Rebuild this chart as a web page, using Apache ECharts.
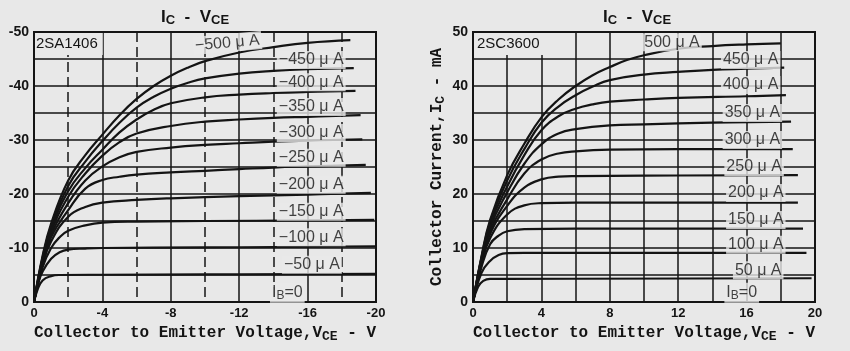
<!DOCTYPE html>
<html>
<head>
<meta charset="utf-8">
<script src="https://cdn.jsdelivr.net/npm/echarts@6/dist/echarts.min.js"></script>
<style>
	html, body { margin: 0; padding: 0; background: #e8e8e8; }
	#chart { width: 850px; height: 351px; }
</style>
</head>
<body>
<div id="chart"></div>
<script>
// 2SA1406 (PNP) : VCE (V), IC (mA), IB 50..500 uA
var sa1406_50 = [[0,0],[-0.2,-2.2],[-0.5,-4],[-1,-4.8],[-1.5,-5],[-4,-5.05],[-10,-5.1],[-20,-5.2]];
var sa1406_100 = [[0,0],[-0.25,-3.5],[-0.5,-5.6],[-1,-8],[-1.5,-9.2],[-2,-9.7],[-3,-9.9],[-4,-10],[-10,-10.1],[-20,-10.3]];
var sa1406_150 = [[0,0],[-0.5,-6.4],[-1,-10],[-1.5,-12],[-2,-13.2],[-3,-14.2],[-4,-14.7],[-6,-14.9],[-10,-15],[-16,-15.1],[-19.9,-15.2]];
var sa1406_200 = [[0,0],[-0.5,-6.8],[-1,-11.2],[-2,-15.8],[-3,-17.6],[-4,-18.4],[-6,-18.9],[-8,-19.2],[-12,-19.6],[-16,-19.9],[-19.7,-20.2]];
var sa1406_250 = [[0,0],[-0.5,-7.1],[-1,-12],[-2,-17],[-3,-21],[-4,-22.6],[-5,-23.2],[-6,-23.6],[-8,-24],[-10,-24.3],[-12,-24.6],[-14,-24.9],[-16,-25.1],[-19.4,-25.4]];
var sa1406_300 = [[0,0],[-0.5,-7.4],[-1,-12.5],[-2,-18.3],[-3,-22.5],[-4,-25.1],[-5,-26.8],[-6,-27.8],[-8,-28.6],[-10,-29.1],[-12,-29.4],[-14,-29.7],[-16,-29.9],[-19.2,-30.1]];
var sa1406_350 = [[0,0],[-0.5,-7.7],[-1,-13],[-2,-19.5],[-3,-23.8],[-4,-27.1],[-5,-29.6],[-6,-31.2],[-8,-32.6],[-10,-33.4],[-12,-33.8],[-14,-34.1],[-16,-34.3],[-19.1,-34.6]];
var sa1406_400 = [[0,0],[-0.5,-8],[-1,-13.5],[-2,-20.5],[-3,-24.8],[-4,-28.2],[-5,-31.4],[-6,-33.8],[-7,-35.6],[-8,-36.8],[-10,-37.9],[-12,-38.4],[-14,-38.7],[-16,-38.9],[-18.8,-39.1]];
var sa1406_450 = [[0,0],[-0.5,-8.2],[-1,-14],[-2,-21.5],[-3,-26],[-4,-29.8],[-5,-33.2],[-6,-36],[-7,-38],[-8,-39.5],[-9,-40.6],[-10,-41.4],[-12,-42.3],[-14,-42.8],[-16,-43.1],[-18.7,-43.3]];
var sa1406_500 = [[0,0],[-0.5,-8.5],[-1,-14.5],[-2,-22.5],[-3,-27.2],[-4,-31],[-5,-34.6],[-6,-37.6],[-7,-40],[-8,-41.9],[-9,-43.4],[-10,-44.6],[-12,-46.2],[-14,-47.2],[-16,-48],[-18.5,-48.5]];

// 2SC3600 (NPN)
var sc3600_50 = [[0,0],[0.3,2.8],[0.6,3.9],[1,4.3],[2,4.3],[19.8,4.4]];
var sc3600_100 = [[0,0],[0.5,5.4],[1,7.6],[1.5,8.7],[2,9.05],[3,9.1],[19.5,9.1]];
var sc3600_150 = [[0,0],[0.5,6.5],[1,10.7],[1.5,12.3],[2,13.1],[3,13.5],[6,13.6],[19.3,13.6]];
var sc3600_200 = [[0,0],[0.5,7],[1,11.8],[2,16.2],[3,17.9],[4,18.3],[6,18.4],[19,18.4]];
var sc3600_250 = [[0,0],[0.5,7.3],[1,12.6],[2,17.8],[3,21.2],[4,22.7],[5,23.2],[6,23.3],[10,23.4],[19,23.5]];
var sc3600_300 = [[0,0],[0.5,7.6],[1,13.2],[2,19],[3,23.8],[4,26.4],[5,27.5],[6,27.9],[8,28.2],[12,28.3],[18.7,28.3]];
var sc3600_350 = [[0,0],[0.5,7.9],[1,13.8],[2,20.3],[3,25.6],[4,29.2],[5,31.2],[6,32],[8,32.7],[10,32.9],[14,33.2],[18.6,33.4]];
var sc3600_400 = [[0,0],[0.5,8.1],[1,14.3],[2,21.4],[3,27.2],[4,31.8],[5,34.4],[6,35.8],[7,36.6],[8,37.1],[10,37.5],[12,37.8],[16,38.1],[18.3,38.3]];
var sc3600_450 = [[0,0],[0.5,8.3],[1,14.8],[2,22.5],[3,28.3],[4,33.2],[5,36.2],[6,38.3],[7,39.9],[8,41.1],[10,42.1],[12,42.6],[14,43],[16,43.2],[18.2,43.4]];
var sc3600_500 = [[0,0],[0.5,8.5],[1,15.2],[2,23.5],[3,29.3],[4,34.2],[5,37.5],[6,40],[7,42],[8,43.5],[9,44.8],[10,45.7],[12,46.9],[14,47.4],[16,47.7],[18,47.9]];

// curve labels (text, anchor in data units)
var sa1406LabelText = ['−500 μ A', '−450 μ A', '−400 μ A', '−350 μ A', '−300 μ A', '−250 μ A', '−200 μ A', '−150 μ A', '−100 μ A', '−50 μ A', '{n|I}{s|B}{n|=0}'];
var sa1406LabelAt = [[-9.3,-47.4],[-14.2,-44.8],[-14.2,-40.7],[-14.2,-36.1],[-14.2,-31.3],[-14.2,-26.7],[-14.2,-21.7],[-14.2,-16.7],[-14.2,-12.0],[-14.5,-6.9],[-13.8,-1.7]];
var sc3600LabelText = ['500 μ A', '450 μ A', '400 μ A', '350 μ A', '300 μ A', '250 μ A', '200 μ A', '150 μ A', '100 μ A', '50 μ A', '{n|I}{s|B}{n|=0}'];
var sc3600LabelAt = [[9.9,48.1],[14.5,44.8],[14.5,40.2],[14.6,35],[14.6,30],[14.7,25],[14.8,20.2],[14.8,15.2],[14.8,10.6],[15.2,5.9],[14.7,1.7]];

var bg = '#e8e8e8';
var ink = '#141414';
var mono = 'Liberation Mono';
var sans = 'Liberation Sans';

var nameRich = {
	n: { fontFamily: mono, fontWeight: 'bold', fontSize: 16, color: ink },
	s: { fontFamily: mono, fontWeight: 'bold', fontSize: 13, color: ink, padding: [8, 0, 0, 0] }
};
var titleRich = {
	n: { fontFamily: sans, fontSize: 17, color: ink },
	s: { fontFamily: sans, fontSize: 13, color: ink, padding: [7, 0, 0, 0] }
};
var labelRich = {
	n: { fontFamily: sans, fontSize: 16, color: ink },
	s: { fontFamily: sans, fontSize: 12, color: ink, padding: [6, 0, 0, 0] }
};

function curve(data, idx) {
	return {
		type: 'line',
		xAxisIndex: idx,
		yAxisIndex: idx,
		data: data,
		showSymbol: false,
		smooth: 0.45,
		lineStyle: { color: ink, width: 2.2 },
		silent: true
	};
}

function labels(texts, at, idx) {
	var data = [];
	for (var i = 0; i < texts.length; i++) {
		data.push({ value: at[i], name: texts[i] });
	}
	return {
		type: 'scatter',
		xAxisIndex: idx,
		yAxisIndex: idx,
		symbolSize: 0,
		z: 5,
		data: data,
		label: {
			show: true,
			position: 'right',
			distance: 0,
			formatter: '{b}',
			fontFamily: sans,
			fontSize: 16,
			color: ink,
			backgroundColor: bg,
			padding: [1, 2],
			rich: labelRich
		}
	};
}

function xAxis(idx, min, max, inverse, minorType) {
	return {
		type: 'value',
		gridIndex: idx,
		min: min,
		max: max,
		interval: 4,
		inverse: inverse,
		axisLine: { show: false },
		axisTick: { show: false },
		splitLine: { show: true, lineStyle: { color: ink, width: 1.5 } },
		minorTick: { show: false, splitNumber: 2 },
		minorSplitLine: { show: true, lineStyle: { color: ink, width: 1.5, type: minorType } },
		axisLabel: { margin: 5, fontFamily: sans, fontWeight: 'bold', fontSize: 13, color: ink },
		name: '{n|Collector to Emitter Voltage,V}{s|CE}{n| - V}',
		nameLocation: 'middle',
		nameGap: 18,
		nameTextStyle: { rich: nameRich }
	};
}

function yAxis(idx, min, max, inverse, name) {
	return {
		type: 'value',
		gridIndex: idx,
		min: min,
		max: max,
		interval: 10,
		inverse: inverse,
		axisLine: { show: false },
		axisTick: { show: false },
		splitLine: { show: true, lineStyle: { color: ink, width: 1.5 } },
		minorTick: { show: false, splitNumber: 2 },
		minorSplitLine: { show: true, lineStyle: { color: ink, width: 1.5 } },
		axisLabel: { margin: 5, fontFamily: sans, fontWeight: 'bold', fontSize: 14, color: ink },
		name: name,
		nameLocation: 'middle',
		nameGap: 26,
		nameTextStyle: { rich: nameRich }
	};
}

var chart = echarts.init(document.getElementById('chart'));
var option = {
	backgroundColor: bg,
	animation: false,
	title: [{
		text: '{n|I}{s|C}{n|  -  V}{s|CE}',
		left: 156,
		top: 2,
		textStyle: { rich: titleRich }
	}, {
		text: '{n|I}{s|C}{n|  -  V}{s|CE}',
		left: 598,
		top: 2,
		textStyle: { rich: titleRich }
	}, {
		text: '2SA1406',
		left: 35,
		top: 33,
		padding: [3, 5, 4, 1],
		backgroundColor: bg,
		textStyle: { fontFamily: sans, fontSize: 15, fontWeight: 'normal', color: ink }
	}, {
		text: '2SC3600',
		left: 474,
		top: 33,
		padding: [3, 4, 4, 3],
		backgroundColor: bg,
		textStyle: { fontFamily: sans, fontSize: 15, fontWeight: 'normal', color: ink }
	}],
	grid: [{
		left: 34, top: 32, width: 342, height: 270,
		show: true, borderColor: ink, borderWidth: 2, backgroundColor: 'transparent'
	}, {
		left: 473, top: 32, width: 342, height: 270,
		show: true, borderColor: ink, borderWidth: 2, backgroundColor: 'transparent'
	}],
	xAxis: [
		xAxis(0, -20, 0, true, [10, 5]),
		xAxis(1, 0, 20, false, 'solid')
	],
	yAxis: [
		yAxis(0, -50, 0, true, ''),
		yAxis(1, 0, 50, false, '{n|Collector Current,I}{s|C}{n| - mA}')
	],
	series: [
		curve(sa1406_50, 0), curve(sa1406_100, 0), curve(sa1406_150, 0), curve(sa1406_200, 0), curve(sa1406_250, 0),
		curve(sa1406_300, 0), curve(sa1406_350, 0), curve(sa1406_400, 0), curve(sa1406_450, 0), curve(sa1406_500, 0),
		curve(sc3600_50, 1), curve(sc3600_100, 1), curve(sc3600_150, 1), curve(sc3600_200, 1), curve(sc3600_250, 1),
		curve(sc3600_300, 1), curve(sc3600_350, 1), curve(sc3600_400, 1), curve(sc3600_450, 1), curve(sc3600_500, 1),
		labels(sa1406LabelText, sa1406LabelAt, 0),
		labels(sc3600LabelText, sc3600LabelAt, 1)
	]
};
// the slanted label on the top curve
option.series[20].data[0].label = { rotate: 5 };
chart.setOption(option);
</script>
</body>
</html>
